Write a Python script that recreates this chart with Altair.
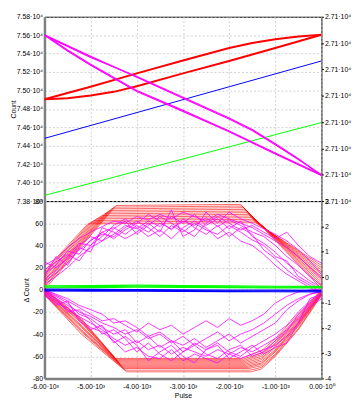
import altair as alt
import pandas as pd

# ---------------- top panel (Count) ----------------
top_red_a_pulse = [-6000, -5000, -4000, -3000, -2000, -1500, -1000, -500, 0]
top_red_a = [74905, 75040, 75185, 75325, 75460, 75515, 75555, 75585, 75605]
top_red_b_pulse = [-6000, -5500, -5000, -4500, -4000, -3000, -2000, -1000, 0]
top_red_b = [74905, 74915, 74945, 74985, 75045, 75185, 75320, 75460, 75604]

top_mag_c_pulse = [-6000, -5000, -4000, -3000, -2000, -1500, -1000, -500, 0]
top_mag_c1 = [75605, 75370, 75145, 74915, 74690, 74565, 74410, 74250, 74085]
top_mag_c2 = [75598, 75358, 75152, 74927, 74702, 74577, 74422, 74258, 74078]
top_mag_d_pulse = [-6000, -5500, -5000, -4000, -3000, -2000, -1000, 0]
top_mag_d1 = [75605, 75440, 75285, 75000, 74785, 74560, 74320, 74085]
top_mag_d2 = [75598, 75428, 75273, 74988, 74773, 74552, 74310, 74078]

top_line_pulse = [-6000, 0]
top_blue = [74480, 75320]
top_green = [73861, 74652]

top_left_ticks = [73800, 74000, 74200, 74400, 74600, 74800, 75000, 75200, 75400, 75600, 75800]
top_right_ticks = [0, 1, 2, 3, 4, 5, 6, 7]
x_ticks = [-6000, -5000, -4000, -3000, -2000, -1000, 0]

# ---------------- bottom panel (delta Count) ----------------
# upper red fan
uf_start = [0, 2, 3, 5, 6, 8, 9, 11, 12, 14, 15, 17]
uf_knee = [-4450, -4500, -4550, -4600, -4650, -4700, -4760, -4820, -4880, -4940, -5000, -5060]
uf_plateau = [76, 74.5, 73, 71.5, 70, 68.5, 67, 65.5, 64, 62.5, 61, 59.5]
uf_end_pulse = [-1750, -1720, -1690, -1660, -1640, -1610, -1580, -1550, -1520, -1490, -1460, -1430]
uf_plateau_end = [77, 75.5, 74, 72.5, 71, 69.5, 68, 66.5, 65, 63.5, 62, 60.5]
uf_final = [1, 3, 5, 7, 9, 11, 12, 14, 16, 18, 20, 22]

# lower red fan
lf_start = [1, 0.5, 0, -0.5, -1, -1.5, -2, -2.5, -3, -3.5, -4, -4.5]
lf_mid = [-26, -27, -28, -29, -30, -32, -33, -34, -36, -37, -38, -40]
lf_knee = [-4460, -4440, -4420, -4400, -4380, -4360, -4340, -4320, -4300, -4280, -4250, -4220]
lf_plateau = [-62, -63, -64, -65, -66, -67, -68, -69, -70, -71, -72.5, -74]
lf_end_pulse = [-1750, -1730, -1710, -1690, -1670, -1650, -1630, -1610, -1590, -1570, -1550, -1530]
lf_m1300 = [-55, -57, -58.5, -60, -61.5, -63, -64.5, -66, -67, -68.5, -70, -71.5]
lf_m1000 = [-44, -46, -48, -49, -51, -52, -54, -55, -56, -58, -59, -60]
lf_m500 = [-22, -24, -25, -27, -28, -29, -30, -31, -32, -33, -35, -36]
lf_final = [0, -0.5, -1, -1.5, -2, -2.5, -3, -3, -3.5, -4, -4.5, -5]

mag_pulse = [-6000, -5750, -5500, -5250, -5000, -4750, -4500, -4250, -4000, -3750, -3500,
             -3250, -3000, -2750, -2500, -2250, -2000, -1750, -1500, -1250, -1000, -750,
             -500, -250, 0]
mag_up = [
    [22, 28, 38, 46, 52, 57, 62, 60, 66, 63, 68, 64, 70, 66, 62, 68, 64, 60, 56, 50, 44, 38, 30, 20, 10],
    [10, 18, 30, 42, 40, 52, 56, 50, 58, 52, 60, 55, 62, 58, 65, 57, 63, 58, 52, 48, 40, 30, 22, 12, 4],
    [5, 12, 20, 30, 38, 44, 50, 58, 55, 62, 57, 66, 60, 68, 58, 64, 55, 62, 48, 42, 34, 24, 16, 8, 2],
    [15, 22, 35, 32, 45, 50, 48, 56, 62, 56, 48, 58, 52, 60, 54, 50, 58, 52, 45, 40, 30, 26, 12, 6, 0],
    [25, 20, 28, 40, 48, 44, 55, 62, 50, 58, 66, 60, 54, 48, 60, 66, 60, 54, 58, 52, 46, 52, 40, 30, 24],
    [8, 15, 24, 36, 44, 52, 46, 54, 60, 68, 62, 54, 64, 56, 50, 58, 48, 56, 50, 36, 28, 18, 10, 4, -2],
    [18, 25, 32, 26, 40, 48, 58, 64, 56, 48, 54, 46, 56, 62, 56, 46, 52, 44, 40, 32, 22, 14, 8, 2, -3],
    [12, 30, 22, 38, 34, 56, 52, 46, 52, 60, 52, 72, 48, 54, 70, 60, 70, 64, 60, 55, 50, 44, 36, 26, 14],
]
mag_lo = [
    [-2, -8, -14, -20, -24, -30, -34, -40, -36, -44, -40, -48, -42, -50, -44, -38, -46, -40, -36, -30, -22, -14, -8, -4, -1],
    [0, -5, -10, -16, -22, -28, -26, -32, -38, -30, -36, -32, -40, -34, -28, -34, -26, -32, -28, -22, -12, -6, -2, 0, 0],
    [-3, -10, -18, -24, -30, -36, -44, -50, -46, -54, -50, -58, -52, -56, -60, -54, -58, -52, -56, -50, -44, -36, -26, -14, -6],
    [-1, -6, -12, -22, -26, -34, -40, -36, -48, -42, -52, -46, -56, -48, -54, -48, -56, -60, -52, -46, -40, -32, -20, -10, -3],
    [-4, -12, -16, -26, -34, -38, -46, -56, -52, -60, -62, -54, -64, -58, -62, -66, -58, -62, -58, -54, -50, -42, -30, -16, -8],
    [0, -4, -8, -14, -18, -22, -30, -28, -34, -42, -38, -46, -50, -44, -52, -46, -40, -48, -42, -36, -30, -18, -10, -4, -2],
    [-2, -8, -20, -18, -28, -40, -36, -44, -56, -48, -58, -64, -56, -50, -58, -62, -54, -50, -60, -56, -46, -38, -22, -12, -5],
    [-5, -14, -10, -28, -36, -32, -48, -42, -50, -64, -56, -50, -60, -66, -54, -50, -62, -56, -50, -58, -52, -48, -30, -8, -4],
]

band_pulse = [-6000, -5000, -4000, -3000, -2000, -1000, 0]
green_band = [
    [3.5, 3.8, 4.2, 3.8, 3.5, 3.2, 3.0],
    [2.5, 2.8, 3.2, 3.0, 2.6, 2.4, 2.2],
    [1.8, 2.0, 2.4, 2.2, 1.9, 1.7, 1.6],
]
blue_band = [
    [0.5, 0.3, 0.2, 0.0, -0.2, -0.3, -0.5],
    [-0.3, -0.5, -0.6, -0.8, -1.0, -1.1, -1.3],
    [-1.0, -1.2, -1.3, -1.5, -1.7, -1.8, -2.0],
]

bot_left_ticks = [-80, -60, -40, -20, 0, 20, 40, 60, 80]
bot_right_ticks = [-4, -3, -2, -1, 0, 1, 2, 3]

RED, MAG, BLUE, GREEN = "#ff0000", "#ff00ff", "#0000ff", "#00ff00"
FONT = "Liberation Sans"
W = 281


def rows(pulses, values, line):
    return [dict(pulse=p, value=v, line=line, idx=k) for k, (p, v) in enumerate(zip(pulses, values))]


def frame(items):
    out = []
    for r in items:
        out.extend(r)
    return pd.DataFrame(out)


XSCALE = alt.Scale(domain=[-6000, 0], nice=False, zero=False)
x_label_expr = ("(datum.value < 0 ? '-' : '') + format(abs(datum.value) / 1000, '.2f') + "
                "(datum.value == 0 ? '·10⁰' : '·10³')")


def layer(df, color, width, yscale, xaxis, yaxis):
    return alt.Chart(df).mark_line(color=color, strokeWidth=width, clip=True).encode(
        x=alt.X("pulse:Q", scale=XSCALE, axis=xaxis),
        y=alt.Y("value:Q", scale=yscale, axis=yaxis),
        detail="line:N",
        order="idx:Q",
    )


# ---- top panel ----
top_y = alt.Scale(domain=[73800, 75800], nice=False, zero=False)
top_xaxis = alt.Axis(values=x_ticks, labels=False, ticks=False, domain=False, title=None,
                     grid=True)
top_yaxis = alt.Axis(values=top_left_ticks, title="Count", grid=True,
                     labelExpr="format(datum.value / 10000, '.2f') + '·10⁴'",
                     domain=True, domainColor="#808080", domainWidth=2.5,
                     ticks=False, labelPadding=2, titlePadding=0)

top_red_df = frame([rows(top_red_a_pulse, top_red_a, "a"), rows(top_red_b_pulse, top_red_b, "b")])
top_mag_df = frame([rows(top_mag_c_pulse, top_mag_c1, "c1"), rows(top_mag_c_pulse, top_mag_c2, "c2"),
                    rows(top_mag_d_pulse, top_mag_d1, "d1"), rows(top_mag_d_pulse, top_mag_d2, "d2")])
top_blue_df = frame([rows(top_line_pulse, top_blue, "blue")])
top_green_df = frame([rows(top_line_pulse, top_green, "green")])

top_layers = alt.layer(
    layer(top_green_df, GREEN, 1, top_y, top_xaxis, top_yaxis),
    layer(top_blue_df, BLUE, 1, top_y, top_xaxis, top_yaxis),
    layer(top_red_df, RED, 2, top_y, top_xaxis, top_yaxis),
    layer(top_mag_df, MAG, 1.2, top_y, top_xaxis, top_yaxis),
)
top_right = alt.Chart(pd.DataFrame({"r": top_right_ticks})).mark_point(opacity=0).encode(
    y=alt.Y("r:Q", scale=alt.Scale(domain=[0, 7], nice=False, zero=False),
            axis=alt.Axis(orient="right", values=top_right_ticks, grid=False, title=None,
                          labelExpr="'2.71·10⁴'", domain=False, ticks=True, tickSize=2,
                          tickColor="black", labelPadding=1))
)
top = alt.layer(top_layers, top_right).resolve_scale(y="independent").properties(width=W, height=187)

# ---- bottom panel ----
bot_y = alt.Scale(domain=[-80, 80], nice=False, zero=False)
bot_xaxis = alt.Axis(values=x_ticks, title="Pulse", grid=True, labelExpr=x_label_expr,
                     labelFlush=False, domain=True, domainColor="#808080", domainWidth=2.5,
                     ticks=False, labelPadding=4, titlePadding=2)
bot_yaxis = alt.Axis(values=bot_left_ticks, title="Δ Count", grid=True,
                     labelExpr="(datum.value < 0 ? '-' : '') + abs(datum.value)",
                     domain=True, domainColor="#808080", domainWidth=2.5,
                     ticks=False, labelPadding=2, titlePadding=3)

uf_items = []
for i in range(len(uf_start)):
    uf_items.append(rows([-6000, uf_knee[i], uf_end_pulse[i], 0],
                         [uf_start[i], uf_plateau[i], uf_plateau_end[i], uf_final[i]], f"u{i}"))
for j in range(len(lf_start)):
    uf_items.append(rows([-6000, -5200, lf_knee[j], lf_end_pulse[j], -1300, -1000, -500, 0],
                         [lf_start[j], lf_mid[j], lf_plateau[j], lf_plateau[j], lf_m1300[j],
                          lf_m1000[j], lf_m500[j], lf_final[j]], f"l{j}"))
red_df = frame(uf_items)
mag_df = frame([rows(mag_pulse, v, f"mu{k}") for k, v in enumerate(mag_up)] +
               [rows(mag_pulse, v, f"ml{k}") for k, v in enumerate(mag_lo)])
green_df = frame([rows(band_pulse, v, f"g{k}") for k, v in enumerate(green_band)])
blue_df = frame([rows(band_pulse, v, f"b{k}") for k, v in enumerate(blue_band)])

bot_layers = alt.layer(
    layer(red_df, RED, 0.6, bot_y, bot_xaxis, bot_yaxis),
    layer(mag_df, MAG, 0.8, bot_y, bot_xaxis, bot_yaxis),
    layer(green_df, GREEN, 1.2, bot_y, bot_xaxis, bot_yaxis),
    layer(blue_df, BLUE, 1.2, bot_y, bot_xaxis, bot_yaxis),
)
bot_right = alt.Chart(pd.DataFrame({"r": bot_right_ticks})).mark_point(opacity=0).encode(
    y=alt.Y("r:Q", scale=alt.Scale(domain=[-4, 3], nice=False, zero=False),
            axis=alt.Axis(orient="right", values=bot_right_ticks, grid=False, title=None,
                          labelExpr="(datum.value < 0 ? '-' : '') + abs(datum.value)",
                          domain=False, ticks=True, tickSize=2, tickColor="black",
                          labelPadding=1))
)
bottom = alt.layer(bot_layers, bot_right).resolve_scale(y="independent").properties(width=W, height=180)

chart = alt.vconcat(top, bottom, spacing=0, bounds="flush").properties(
    padding={"left": 0, "top": 1, "right": 0, "bottom": 0}
).configure_view(stroke="black", strokeWidth=1).configure_axis(
    labelFont=FONT, labelFontSize=7, labelColor="black",
    titleFont=FONT, titleFontSize=7, titleFontWeight="normal", titleColor="black",
    gridColor="#c4c4c4", gridDash=[2, 2], gridWidth=0.8,
)

chart.save("out.html", embed_options={"renderer": "svg", "actions": False})
